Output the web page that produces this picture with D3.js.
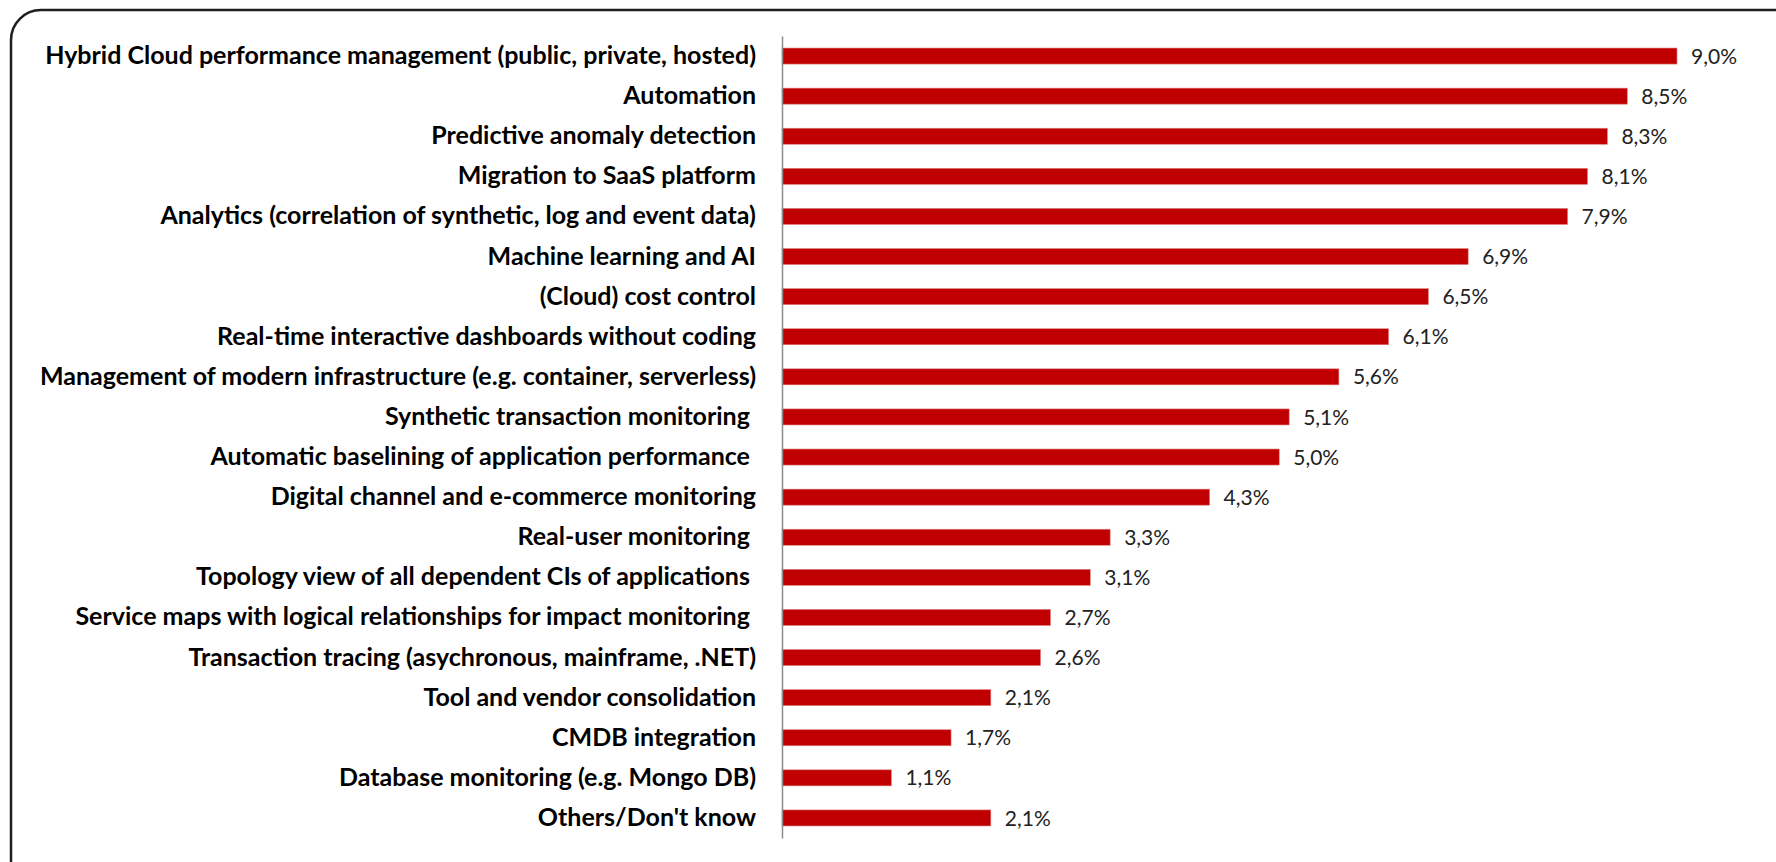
<!DOCTYPE html>
<html>
<head>
<meta charset="utf-8">
<script src="https://cdn.jsdelivr.net/npm/d3@7"></script>
<style>
  html, body { margin: 0; padding: 0; background: #fff; }
  svg { display: block; }
  text { white-space: pre; }
</style>
</head>
<body>
<svg id="chart" width="1776" height="862"></svg>
<script>
const categories = [
  "Hybrid Cloud performance management (public, private, hosted)",
  "Automation",
  "Predictive anomaly detection",
  "Migration to SaaS platform",
  "Analytics (correlation of synthetic, log and event data)",
  "Machine learning and AI",
  "(Cloud) cost control",
  "Real-time interactive dashboards without coding",
  "Management of modern infrastructure (e.g. container, serverless)",
  "Synthetic transaction monitoring ",
  "Automatic baselining of application performance ",
  "Digital channel and e-commerce monitoring",
  "Real-user monitoring ",
  "Topology view of all dependent CIs of applications ",
  "Service maps with logical relationships for impact monitoring ",
  "Transaction tracing (asychronous, mainframe, .NET)",
  "Tool and vendor consolidation",
  "CMDB integration",
  "Database monitoring (e.g. Mongo DB)",
  "Others/Don't know"
];
const values = [9.0, 8.5, 8.3, 8.1, 7.9, 6.9, 6.5, 6.1, 5.6, 5.1, 5.0, 4.3, 3.3, 3.1, 2.7, 2.6, 2.1, 1.7, 1.1, 2.1];

const data = categories.map((c, i) => ({ cat: c, val: values[i] }));

const svg = d3.select("#chart");

// frame
svg.append("rect")
  .attr("x", 11).attr("y", 10)
  .attr("width", 1830).attr("height", 920)
  .attr("rx", 30).attr("ry", 30)
  .attr("fill", "none")
  .attr("stroke", "#1e1e1e")
  .attr("stroke-width", 2.5);

const axisX = 782;
const x = d3.scaleLinear().domain([0, 9]).range([axisX, 1677]);
const y = d3.scaleBand().domain(categories).range([36, 838]).paddingInner(0.6).paddingOuter(0.3);

// bars
svg.append("g").selectAll("rect")
  .data(data).join("rect")
  .attr("x", x(0))
  .attr("y", d => y(d.cat))
  .attr("width", d => x(d.val) - x(0))
  .attr("height", y.bandwidth())
  .attr("fill", "#c00000")
  .attr("stroke", "#e08080")
  .attr("stroke-width", 0.6);

// category axis
const yAxis = d3.axisLeft(y).tickSize(0).tickPadding(26);
const gy = svg.append("g").attr("transform", `translate(${axisX},0)`).call(yAxis);
gy.select(".domain").attr("stroke", "#8c8c8c").attr("stroke-width", 1.5);
gy.selectAll(".tick text")
  .attr("font-family", "Lato, 'Open Sans', sans-serif")
  .attr("font-weight", "bold")
  .attr("font-size", 25)
  .attr("fill", "#000");

// value labels
const fmt = v => d3.format(".1f")(v).replace(".", ",") + "%";
svg.append("g").selectAll("text")
  .data(data).join("text")
  .attr("x", d => x(d.val) + 14)
  .attr("y", d => y(d.cat) + y.bandwidth() / 2)
  .attr("dy", "0.36em")
  .attr("font-family", "Lato, 'Open Sans', sans-serif")
  .attr("font-size", 21)
  .attr("fill", "#222")
  .text(d => fmt(d.val));
</script>
</body>
</html>
